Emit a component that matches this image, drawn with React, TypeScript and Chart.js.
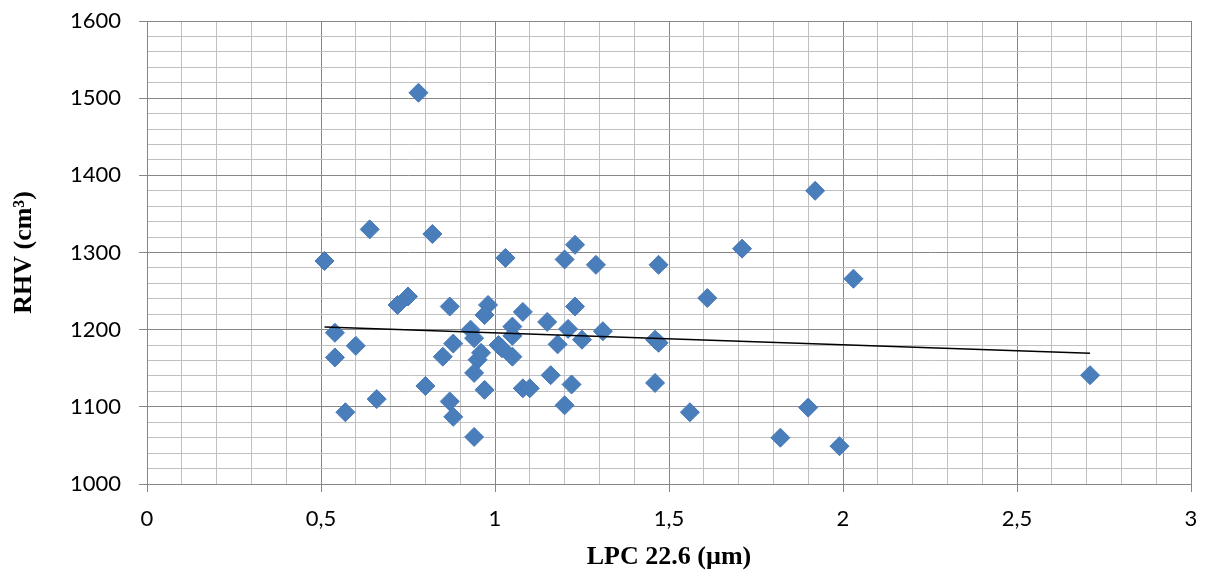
import React, { useEffect, useRef } from "react";
import { Chart, registerables } from "chart.js";

Chart.register(...registerables);

// LPC 22.6 (µm) values
const lpc = [
  0.78, 1.92, 0.64, 0.82, 1.71, 1.23, 0.51, 1.03, 1.2, 1.29, 1.47, 2.03, 1.61, 0.75, 0.72,
  0.87, 0.98, 1.08, 1.23, 0.97, 1.15, 1.05, 1.05, 0.93, 0.94, 0.54, 1.21, 1.31, 1.46, 1.47,
  1.25, 0.6, 0.88, 1.01, 1.02, 1.18, 0.54, 0.85, 0.95, 0.96, 1.05, 0.94, 1.16, 2.71, 0.8,
  1.08, 1.1, 1.22, 1.46, 0.97, 0.66, 0.87, 1.2, 1.9, 1.56, 0.57, 0.88, 0.94, 1.82, 1.99,
];
// RHV (cm³) values
const rhv = [
  1507, 1380, 1330, 1324, 1305, 1310, 1289, 1293, 1291, 1284, 1284, 1266, 1241, 1243, 1232,
  1230, 1232, 1223, 1230, 1219, 1210, 1204, 1192, 1200, 1189, 1196, 1201, 1198, 1187, 1183,
  1187, 1179, 1182, 1180, 1176, 1181, 1164, 1165, 1161, 1170, 1165, 1144, 1141, 1141, 1127,
  1124, 1124, 1129, 1131, 1122, 1110, 1107, 1102, 1099, 1093, 1093, 1087, 1061, 1060, 1049,
];

const xTickLabels = ["0", "0,5", "1", "1,5", "2", "2,5", "3"];
const yTickLabels = ["1000", "1100", "1200", "1300", "1400", "1500", "1600"];

const xTitle = "LPC 22.6 (µm)";
const yTitle = "RHV (cm³)";

const MAJOR = "#868686";
const MINOR = "#c0c0c0";

function trend() {
  const n = lpc.length;
  const mx = lpc.reduce((a, b) => a + b, 0) / n;
  const my = rhv.reduce((a, b) => a + b, 0) / n;
  let sxy = 0;
  let sxx = 0;
  for (let i = 0; i < n; i++) {
    sxy += (lpc[i] - mx) * (rhv[i] - my);
    sxx += (lpc[i] - mx) * (lpc[i] - mx);
  }
  const b = sxy / sxx;
  const a = my - b * mx;
  const x0 = Math.min(...lpc);
  const x1 = Math.max(...lpc);
  return [
    { x: x0, y: a + b * x0 },
    { x: x1, y: a + b * x1 },
  ];
}

const isXMajor = (v: number) => Math.abs(v * 2 - Math.round(v * 2)) < 1e-6;
const isYMajor = (v: number) => Math.abs(v / 100 - Math.round(v / 100)) < 1e-6;

export default function App() {
  const ref = useRef<HTMLCanvasElement | null>(null);

  useEffect(() => {
    if (!ref.current) return;
    const chart = new Chart(ref.current, {
      type: "scatter",
      data: {
        datasets: [
          {
            type: "line",
            label: "trend",
            data: trend(),
            borderColor: "#000000",
            borderWidth: 1.5,
            pointRadius: 0,
            fill: false,
            order: 0,
          } as any,
          {
            label: "RHV",
            data: lpc.map((x, i) => ({ x, y: rhv[i] })),
            pointStyle: "rectRot",
            pointRadius: 9.5,
            backgroundColor: "#4a7ebb",
            borderColor: "#4677b8",
            borderWidth: 1,
            order: 1,
          },
        ],
      },
      options: {
        animation: false,
        responsive: false,
        layout: { padding: { top: 21, right: 22, left: 0, bottom: 0 } },
        plugins: { legend: { display: false }, tooltip: { enabled: false } },
        scales: {
          x: {
            type: "linear",
            position: "bottom",
            min: 0,
            max: 3,
            afterFit: (s: any) => {
              s.height = 92;
              s.paddingLeft = 0;
              s.paddingRight = 0;
            },
            ticks: {
              stepSize: 0.1,
              autoSkip: false,
              maxRotation: 0,
              padding: 14,
              color: "#000000",
              font: { family: "Lato", size: 22 },
              callback: (v: any) => (isXMajor(Number(v)) ? xTickLabels[Math.round(Number(v) * 2)] : ""),
            },
            grid: {
              color: (c: any) => (isXMajor(c.tick.value) ? MAJOR : MINOR),
              tickColor: (c: any) => (isXMajor(c.tick.value) ? MAJOR : "rgba(0,0,0,0)"),
              lineWidth: 1,
              tickLength: 8,
            },
            border: { color: MAJOR, width: 1 },
            title: {
              display: true,
              text: xTitle,
              color: "#000000",
              font: { family: "Liberation Serif", size: 26, weight: "bold" },
              padding: { top: 0, bottom: 3 },
            },
          },
          y: {
            type: "linear",
            min: 1000,
            max: 1600,
            afterFit: (s: any) => {
              s.width = 147;
              s.paddingTop = 0;
              s.paddingBottom = 0;
            },
            ticks: {
              stepSize: 20,
              autoSkip: false,
              padding: 18,
              color: "#000000",
              font: { family: "Lato", size: 22 },
              callback: (v: any) =>
                isYMajor(Number(v)) ? yTickLabels[Math.round((Number(v) - 1000) / 100)] : "",
            },
            grid: {
              color: (c: any) => (isYMajor(c.tick.value) ? MAJOR : MINOR),
              tickColor: (c: any) => (isYMajor(c.tick.value) ? MAJOR : "rgba(0,0,0,0)"),
              lineWidth: 1,
              tickLength: 8,
            },
            border: { color: MAJOR, width: 1 },
            title: {
              display: true,
              text: yTitle,
              color: "#000000",
              font: { family: "Liberation Serif", size: 26, weight: "bold" },
              padding: { top: 9, bottom: 0 },
            },
          },
        },
      } as any,
    });
    return () => chart.destroy();
  }, []);

  return (
    <div style={{ position: "absolute", left: 0, top: 0, width: 1213, height: 576, background: "#ffffff" }}>
      <canvas ref={ref} width={1213} height={576} />
    </div>
  );
}
